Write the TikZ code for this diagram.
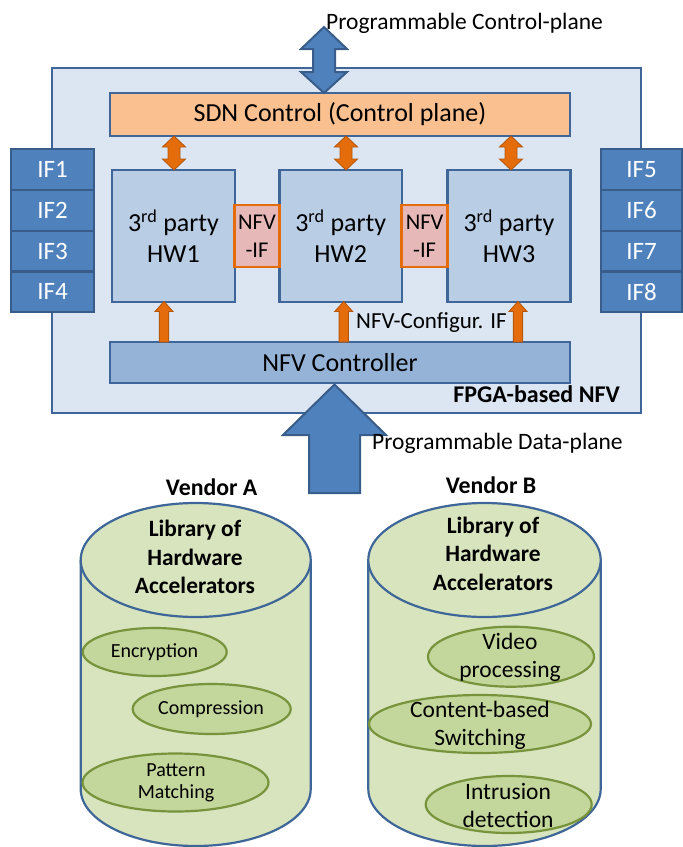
\documentclass[tikz,border=0pt]{standalone}
\usepackage{fontspec}
\setmainfont{Carlito}
\usetikzlibrary{shapes.geometric}
\definecolor{bordblue}{HTML}{3F6698}
\definecolor{outerfill}{HTML}{DCE6F2}
\definecolor{sdnfill}{HTML}{FAC090}
\definecolor{hwfill}{HTML}{B9CDE5}
\definecolor{ctrlfill}{HTML}{95B3D7}
\definecolor{iffill}{HTML}{4F81BD}
\definecolor{ifline}{HTML}{385D8A}
\definecolor{niffill}{HTML}{E6B9B8}
\definecolor{orfill}{HTML}{E46C0A}
\definecolor{ordark}{HTML}{B65708}
\definecolor{cylfill}{HTML}{D7E4BD}
\definecolor{accfill}{HTML}{C3D69B}
\definecolor{accline}{HTML}{77933C}
\newcommand{\setfs}[2]{\fontsize{#1}{#2}\selectfont}
\newcommand{\odbl}[3]{\filldraw[orarr] (#1,#2) -- (#1+11.5,#2+11) -- (#1+6,#2+11) -- (#1+6,#3-11) -- (#1+11.5,#3-11) -- (#1,#3) -- (#1-11.5,#3-11) -- (#1-6,#3-11) -- (#1-6,#2+11) -- (#1-11.5,#2+11) -- cycle;}
\newcommand{\oup}[3]{\filldraw[orarr] (#1,#2) -- (#1+9,#2+10) -- (#1+4.6,#2+10) -- (#1+4.6,#3) -- (#1-4.6,#3) -- (#1-4.6,#2+10) -- (#1-9,#2+10) -- cycle;}
\begin{document}
\begin{tikzpicture}[x=1pt,y=-1pt,
  blk/.style={draw=bordblue, line width=2.4, inner sep=0, align=center, font=\setfs{26}{31}},
  outerbox/.style={blk, fill=outerfill, minimum width=589, minimum height=345},
  sdnbox/.style={blk, fill=sdnfill, minimum width=460, minimum height=43},
  hwbox/.style={blk, fill=hwfill, minimum width=123, minimum height=132},
  ctrlbox/.style={blk, fill=ctrlfill, minimum width=460, minimum height=41},
  ifbox/.style={draw=ifline, line width=2.2, fill=iffill, text=white, inner sep=0, minimum width=83, minimum height=40.7, font=\setfs{25}{30}},
  nifbox/.style={draw=orfill, line width=2.6, fill=niffill, inner sep=0, align=center, minimum width=45, minimum height=62, font=\setfs{22.5}{28}},
  orarr/.style={fill=orfill, draw=ordark, line width=0.9},
  bigarr/.style={fill=iffill, draw=ifline, line width=2},
  lbl/.style={inner sep=0, font=\setfs{23.5}{28}},
  cylline/.style={draw=bordblue, line width=2.2},
  acc/.style={ellipse, draw=accline, fill=accfill, line width=2.2, inner sep=0},
  acctxtA/.style={inner sep=0, align=center, font=\setfs{20}{22.5}},
  acctxtB/.style={inner sep=0, align=center, font=\setfs{23.5}{28}},
  libtxt/.style={inner sep=0, align=center, font=\bfseries\setfs{23.4}{28.5}},
  vend/.style={inner sep=0, font=\bfseries\setfs{23.8}{28}}
]
\useasboundingbox (0,0) rectangle (683,847);
% FPGA box
\node[outerbox] (outer) at (346.5,240.5) {};
% interfaces
\node[ifbox] (if1) at (52.5,169.65) {IF1};
\node[ifbox] (if2) at (52.5,210.35) {IF2};
\node[ifbox] (if3) at (52.5,251.05) {IF3};
\node[ifbox] (if4) at (52.5,291.75) {IF4};
\node[ifbox, minimum width=81] (if5) at (641.5,169.65) {IF5};
\node[ifbox, minimum width=81] (if6) at (641.5,210.35) {IF6};
\node[ifbox, minimum width=81] (if7) at (641.5,251.05) {IF7};
\node[ifbox, minimum width=81] (if8) at (641.5,291.75) {IF8};
% inner blocks
\node[sdnbox] (sdn) at (340,114.5) {SDN Control (Control plane)};
\node[hwbox] (hw1) at (173.5,236) {3\textsuperscript{rd} party\\HW1};
\node[hwbox, minimum width=122.5] (hw2) at (340.75,236) {3\textsuperscript{rd} party\\HW2};
\node[hwbox] (hw3) at (509,236) {3\textsuperscript{rd} party\\HW3};
\node[nifbox] (nif1) at (257,236) {NFV\\-IF};
\node[nifbox, minimum width=46] (nif2) at (424.6,236) {NFV\\-IF};
\node[ctrlbox] (nfvc) at (340,362.5) {NFV Controller};
% orange arrows
\odbl{174}{136}{170}
\odbl{346}{136}{170}
\odbl{511}{136}{170}
\oup{164}{301.5}{342}
\oup{343.7}{301.5}{342}
\oup{518}{301.5}{342}
% big blue arrows
\filldraw[bigarr] (324,27) -- (347,49) -- (335,49) -- (335,72) -- (347,72) -- (324,93) -- (301,72) -- (313,72) -- (313,49) -- (301,49) -- cycle;
\filldraw[bigarr] (309,493) -- (309,435) -- (283,435) -- (334.5,384.5) -- (386,435) -- (360,435) -- (360,493) -- cycle;
% labels
\node[lbl, anchor=west] (cplane) at (326,23) {Programmable Control-plane};
\node[lbl, anchor=west, font=\setfs{23}{28}] (cfgif) at (356,323) {NFV-Configur. IF};
\node[lbl, anchor=east, font=\bfseries\setfs{24}{28}] (fpga) at (620,394) {FPGA-based NFV};
\node[lbl, anchor=west] (dplane) at (372,443) {Programmable Data-plane};
% vendor A cylinder
\node[vend] (venda) at (211.7,487) {Vendor A};
\fill[cylfill] (80.7,560) -- (80.7,789) arc[start angle=180, end angle=0, x radius=115, y radius=57] -- (310.7,560) -- cycle;
\draw[cylline] (80.7,560) -- (80.7,789) arc[start angle=180, end angle=0, x radius=115, y radius=57] -- (310.7,560);
\filldraw[cylline, fill=cylfill] (195.7,560) ellipse[x radius=115, y radius=57];
\node[libtxt] (liba) at (195,557) {Library of\\Hardware\\Accelerators};
\node[acc, minimum width=144, minimum height=48] (enc) at (154.7,652) {};
\node[acctxtA] (enct) at (154.5,652) {Encryption};
\node[acc, minimum width=158, minimum height=50] (comp) at (211.7,709) {};
\node[acctxtA] (compt) at (211,709) {Compression};
\node[acc, minimum width=186, minimum height=58] (patt) at (175.5,782.5) {};
\node[acctxtA] (pattt) at (176,783) {Pattern\\Matching};
% vendor B cylinder
\node[vend] (vendb) at (491,485) {Vendor B};
\fill[cylfill] (368.3,560) -- (368.3,789) arc[start angle=180, end angle=0, x radius=116.2, y radius=57] -- (600.7,560) -- cycle;
\draw[cylline] (368.3,560) -- (368.3,789) arc[start angle=180, end angle=0, x radius=116.2, y radius=57] -- (600.7,560);
\filldraw[cylline, fill=cylfill] (484.5,560) ellipse[x radius=116.2, y radius=57];
\node[libtxt] (libb) at (493,553.5) {Library of\\Hardware\\Accelerators};
\node[acc, minimum width=166, minimum height=60] (vid) at (511,656.7) {};
\node[acctxtB] (vidt) at (510,657) {Video\\processing};
\node[acc, minimum width=222, minimum height=58] (cbs) at (480,724) {};
\node[acctxtB] (cbst) at (480,725) {Content-based\\Switching};
\node[acc, minimum width=166, minimum height=57] (ids) at (508.7,804.5) {};
\node[acctxtB] (idst) at (508,805.5) {Intrusion\\detection};
\end{tikzpicture}
\end{document}
